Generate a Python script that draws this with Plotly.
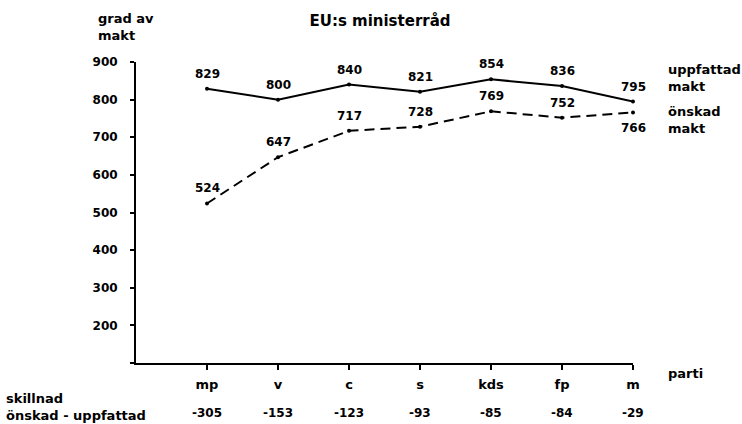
import plotly.graph_objects as go

# ---- data ----
partier = ["mp", "v", "c", "s", "kds", "fp", "m"]
uppfattad = [829, 800, 840, 821, 854, 836, 795]
onskad = [524, 647, 717, 728, 769, 752, 766]
skillnad = [-305, -153, -123, -93, -85, -84, -29]
y_ticks = [100, 200, 300, 400, 500, 600, 700, 800, 900]
y_ticktext = ["", "200", "300", "400", "500", "600", "700", "800", "900"]

# ---- layout geometry (pixels) ----
W, H = 742, 424
L, R, T, B = 136, 109, 62, 61
PW, PH = W - L - R, H - T - B

def px(xp):
    return (xp - L) / PW

def py(yp):
    return (H - B - yp) / PH

FONT = "DejaVu Sans"
fnt = dict(family=FONT, size=13, color="black", weight="bold")
nfnt = dict(family=FONT, size=12, color="black", weight="bold")

xs = list(range(len(partier)))

fig = go.Figure()
fig.add_trace(go.Scatter(
    x=xs, y=uppfattad, mode="lines+markers",
    line=dict(color="black", width=2),
    marker=dict(size=4, color="black"),
    cliponaxis=False, hoverinfo="skip", showlegend=False))
fig.add_trace(go.Scatter(
    x=xs, y=onskad, mode="lines+markers",
    line=dict(color="black", width=2, dash="10px,6px"),
    marker=dict(size=4, color="black"),
    cliponaxis=False, hoverinfo="skip", showlegend=False))

ann = []
for i, v in enumerate(uppfattad):
    ann.append(dict(x=i, y=v, xref="x", yref="y", text=str(v), showarrow=False,
                    yshift=15, font=nfnt))
for i, v in enumerate(onskad):
    shift = -16 if i == len(onskad) - 1 else 15
    ann.append(dict(x=i, y=v, xref="x", yref="y", text=str(v), showarrow=False,
                    yshift=shift, font=nfnt))
for i, d in enumerate(skillnad):
    ann.append(dict(x=i, y=py(413), xref="x", yref="paper", text=str(d),
                    showarrow=False, font=nfnt, yanchor="middle"))

def txt(text, x, y):
    ann.append(dict(x=px(x), y=py(y), xref="paper", yref="paper", text=text,
                    showarrow=False, xanchor="left", yanchor="middle", align="left",
                    font=fnt))

txt("grad av<br>makt", 96, 27)
txt("uppfattad<br>makt", 666, 78)
txt("önskad<br>makt", 666, 120)
txt("parti", 666, 373)
txt("skillnad<br>önskad - uppfattad", 4, 407)

fig.update_layout(
    width=W, height=H,
    margin=dict(l=L, r=R, t=T, b=B, pad=0),
    paper_bgcolor="white", plot_bgcolor="white",
    font=fnt,
    title=dict(text="EU:s ministerråd", x=380 / W, xref="container", xanchor="center",
               y=1 - 21 / H, yref="container", yanchor="middle",
               font=dict(family=FONT, size=15, color="black", weight="bold")),
    annotations=ann,
    xaxis=dict(range=[-1, 6], tickvals=xs, ticktext=partier, showgrid=False,
               zeroline=False, showline=True, linecolor="black", linewidth=1.5,
               ticks="outside", ticklen=5, tickcolor="black", tickwidth=1.5,
               tickfont=fnt, ticklabelstandoff=4, fixedrange=True),
    yaxis=dict(range=[100, 900], tickvals=y_ticks, ticktext=y_ticktext, showgrid=False,
               zeroline=False, showline=True, linecolor="black", linewidth=2,
               ticks="outside", ticklen=4, tickcolor="black", tickwidth=1.5,
               tickfont=nfnt, ticklabelstandoff=10, fixedrange=True),
)

fig.write_html("out.html", config={"displayModeBar": False},
               post_script="document.body.style.margin='0';document.body.style.padding='0';")
